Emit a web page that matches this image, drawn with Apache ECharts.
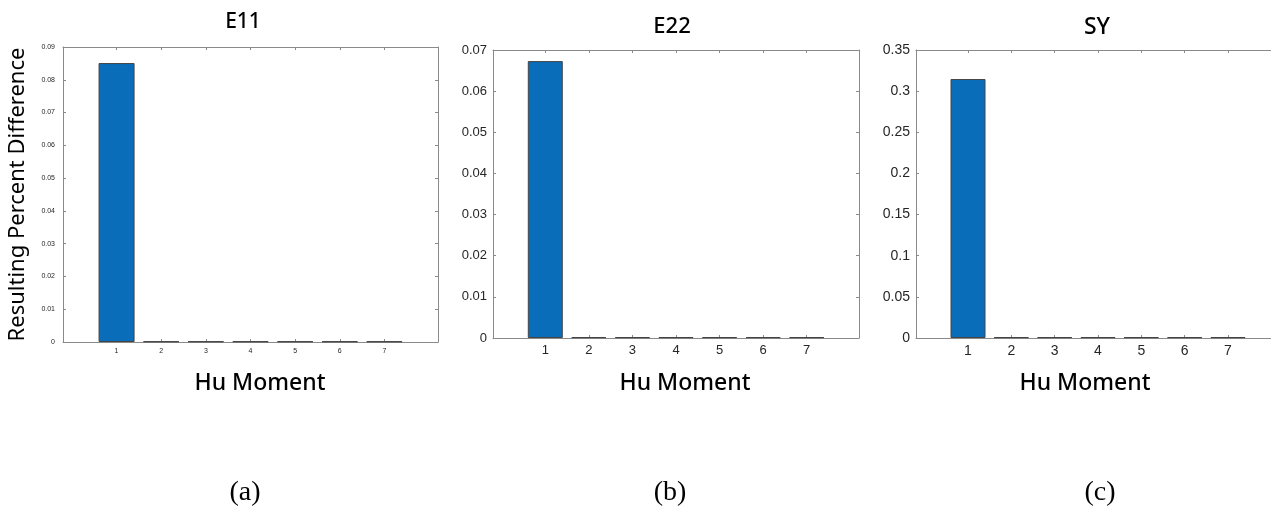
<!DOCTYPE html>
<html>
<head>
<meta charset="utf-8">
<script src="https://cdn.jsdelivr.net/npm/echarts@6/dist/echarts.min.js"></script>
<style>
	html, body { margin: 0; padding: 0; background: #fff; }
	#chart { width: 1271px; height: 508px; }
</style>
</head>
<body>
<div id="chart"></div>
<script>
// Hu moment indices (x categories)
var huMoments = [1, 2, 3, 4, 5, 6, 7];

// resulting percent difference per panel
var e11Values = [0.0851, 0.0002, 0.0002, 0.0002, 0.0002, 0.0002, 0.0002];
var e22Values = [0.0673, 0.0002, 0.0002, 0.0002, 0.0002, 0.0002, 0.0002];
var syValues = [0.3147, 0.0010, 0.0010, 0.0010, 0.0010, 0.0010, 0.0010];

var panelTitles = ['E11', 'E22', 'SY'];
var panelCaptions = ['(a)', '(b)', '(c)'];

var chart = echarts.init(document.getElementById('chart'));

var axisGrey = '#8a8a8a';
var sans = '"Noto Sans", "Open Sans", sans-serif';
var helv = '"Liberation Sans", Arial, sans-serif';

// one panel = grid, bottom/top x axes, left/right y axes, bar series
var panels = [
	{ grid: { left: 63, top: 47, width: 375, height: 295 }, values: e11Values,
		yMax: 0.09, yStep: 0.01, tickFont: 7, barWidth: 36, labelMargin: 8 },
	{ grid: { left: 493, top: 50, width: 366, height: 288 }, values: e22Values,
		yMax: 0.07, yStep: 0.01, tickFont: 13, barWidth: 35, labelMargin: 6 },
	{ grid: { left: 916, top: 50, width: 364, height: 288 }, values: syValues,
		yMax: 0.35, yStep: 0.05, tickFont: 14, barWidth: 35, labelMargin: 6 }
];

var grids = [], xAxes = [], yAxes = [], series = [];

panels.forEach(function (p, i) {
	grids.push(Object.assign({ containLabel: false, outerBoundsMode: 'none' }, p.grid));

	var lineStyle = { color: axisGrey, width: 1 };
	var tick = { show: true, inside: true, length: 3, lineStyle: lineStyle, customValues: huMoments };

	// bottom x axis with labels
	xAxes.push({
		type: 'value', gridIndex: i, min: -0.2, max: 8.2, position: 'bottom',
		axisLine: { show: true, onZero: false, lineStyle: lineStyle },
		axisTick: tick,
		axisLabel: { customValues: huMoments, fontSize: p.tickFont, color: '#262626',
			fontFamily: helv, margin: 6 },
		splitLine: { show: false }
	});
	// top x axis, ticks only (box)
	xAxes.push({
		type: 'value', gridIndex: i, min: -0.2, max: 8.2, position: 'top',
		axisLine: { show: true, onZero: false, lineStyle: lineStyle },
		axisTick: tick,
		axisLabel: { show: false },
		splitLine: { show: false }
	});

	var yTick = { show: true, inside: true, length: 3, lineStyle: lineStyle };
	yAxes.push({
		type: 'value', gridIndex: i, min: 0, max: p.yMax, interval: p.yStep, position: 'left',
		axisLine: { show: true, onZero: false, lineStyle: lineStyle },
		axisTick: yTick,
		axisLabel: { fontSize: p.tickFont, color: '#262626', fontFamily: helv, margin: p.labelMargin },
		splitLine: { show: false },
		name: i === 0 ? 'Resulting Percent Difference' : '',
		nameLocation: 'middle',
		nameGap: 34,
		nameRotate: 90,
		nameTextStyle: { fontSize: 22, color: '#000', fontFamily: sans }
	});
	yAxes.push({
		type: 'value', gridIndex: i, min: 0, max: p.yMax, interval: p.yStep, position: 'right',
		axisLine: { show: true, onZero: false, lineStyle: lineStyle },
		axisTick: yTick,
		axisLabel: { show: false },
		splitLine: { show: false }
	});

	series.push({
		type: 'bar',
		xAxisIndex: i * 2,
		yAxisIndex: i * 2,
		barWidth: p.barWidth,
		data: huMoments.map(function (h, k) { return [h, p.values[k]]; }),
		itemStyle: { color: '#0A6DB9', borderColor: '#444', borderWidth: 1 },
		silent: true
	});
});

// texts: titles, axis names, captions
var titlePos = [[243, 22, 21], [672, 27, 22], [1097, 27, 23]];
var xNamePos = [260, 685, 1085];
var captionPos = [245, 670, 1100];
var graphics = [];
panelTitles.forEach(function (t, i) {
	graphics.push({ type: 'text', x: titlePos[i][0], y: titlePos[i][1],
		style: { text: t, fill: '#000', font: '500 ' + titlePos[i][2] + 'px ' + sans,
			textAlign: 'center', textVerticalAlign: 'middle' } });
	graphics.push({ type: 'text', x: xNamePos[i], y: 383,
		style: { text: 'Hu Moment', fill: '#000', font: '500 23px ' + sans,
			textAlign: 'center', textVerticalAlign: 'middle' } });
	graphics.push({ type: 'text', x: captionPos[i], y: 493,
		style: { text: panelCaptions[i], fill: '#000', font: '28px "Liberation Serif", serif',
			textAlign: 'center', textVerticalAlign: 'middle' } });
});

chart.setOption({
	animation: false,
	backgroundColor: '#fff',
	grid: grids,
	xAxis: xAxes,
	yAxis: yAxes,
	series: series,
	graphic: graphics
});
</script>
</body>
</html>
